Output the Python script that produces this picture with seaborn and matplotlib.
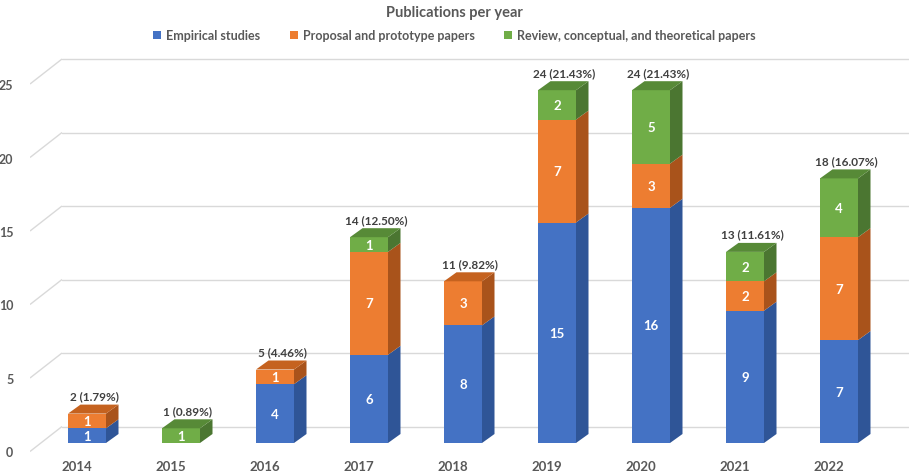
import matplotlib
matplotlib.use("Agg")
import matplotlib.pyplot as plt
import seaborn as sns
import pandas as pd
from matplotlib.patches import Polygon, Patch

years = ["2014", "2015", "2016", "2017", "2018", "2019", "2020", "2021", "2022"]
empirical = [1, 0, 4, 6, 8, 15, 16, 9, 7]
proposal = [1, 0, 1, 7, 3, 7, 3, 2, 7]
review = [0, 1, 0, 1, 0, 2, 5, 2, 4]
series_names = ["Empirical studies", "Proposal and prototype papers",
                "Review, conceptual, and theoretical papers"]
y_ticks = [0, 5, 10, 15, 20, 25]

front_colors = ["#4472C4", "#ED7D31", "#70AD47"]
side_colors = ["#2F5597", "#A9531B", "#4B7631"]
top_colors = ["#3A62AE", "#C5621F", "#578A37"]

TEXT = "#595959"
FONT = ["Lato", "DejaVu Sans"]

sns.set_theme(style="white")
plt.rcParams["font.family"] = FONT

W, H = 909, 477
fig = plt.figure(figsize=(W / 100, H / 100), dpi=100)
# axes spans pixel x 30..909 and pixel y 50..455 (from top)
ax = fig.add_axes([30 / W, (H - 455) / H, 879 / W, (455 - 50) / H])

df = pd.DataFrame({"year": years, "empirical": empirical,
                   "proposal": proposal, "review": review})
cols = ["empirical", "proposal", "review"]

bottoms = [0] * len(years)
segments = []  # (series index, patch, value)
for k, col in enumerate(cols):
    n0 = len(ax.patches)
    sns.barplot(data=df, x="year", y=col, order=years, bottom=bottoms,
                color=front_colors[k], saturation=1, width=38 / 94,
                errorbar=None, ax=ax, zorder=3, linewidth=0)
    new = ax.patches[n0:]
    for p, v in zip(new, df[col]):
        segments.append((k, p, v))
    bottoms = [b + v for b, v in zip(bottoms, df[col])]
totals = bottoms
grand = sum(totals)

# pixel mapping: category i centre at px 87 + 94 i, value v at px 444 - 14.7 v
x_lo = (30 - 87) / 94
x_hi = (909 - 87) / 94
y_lo = (444 - 455) / 14.7
y_hi = (444 - 50) / 14.7
ax.set_xlim(x_lo, x_hi)
ax.set_ylim(y_lo, y_hi)
for s in ax.spines.values():
    s.set_visible(False)
ax.set_xlabel("")
ax.set_ylabel("")

px_x = 94 / 1.0
px_y = 14.7
dx = 12.5 / px_x   # bar depth
dy = 9 / px_y
back_off = 16.5 / px_y    # back wall above bar front
floor_off = -8.5 / px_y   # front floor edge below bar front
wall_x = x_lo + 32 / px_x

# back wall and side wall grid
for v in y_ticks:
    ax.plot([x_lo, wall_x], [v + floor_off, v + back_off], color="#D9D9D9",
            lw=1, zorder=1, solid_capstyle="butt")
    ax.plot([wall_x, x_hi], [v + back_off, v + back_off], color="#D9D9D9",
            lw=1, zorder=1)

ax.set_yticks([v + floor_off for v in y_ticks])
ax.set_yticklabels([str(v) for v in y_ticks])
ax.set_xticks([i - 10 / px_x for i in range(len(years))])
ax.set_xticklabels(years)
ax.tick_params(axis="y", length=0, pad=12, labelsize=9, labelcolor=TEXT)
ax.tick_params(axis="x", length=0, pad=4, labelsize=9.5, labelcolor=TEXT)
for lab in ax.get_xticklabels() + ax.get_yticklabels():
    lab.set_fontweight("bold")
ax.grid(False)

# 3D side and top faces
for k, p, v in segments:
    if v <= 0:
        continue
    x0 = p.get_x()
    x1 = x0 + p.get_width()
    b = p.get_y()
    t = b + p.get_height()
    side = Polygon([(x1, b), (x1 + dx, b + dy), (x1 + dx, t + dy), (x1, t)],
                   closed=True, facecolor=side_colors[k], edgecolor="none",
                   zorder=3)
    ax.add_patch(side)
    ax.text((x0 + x1) / 2, (b + t) / 2, str(int(v)), ha="center",
            va="center", color="white", fontsize=9.5, fontweight="bold",
            zorder=5)

for i in range(len(years)):
    top_k, top_p = None, None
    for k, p, v in segments:
        if v > 0 and round(p.get_x() + p.get_width() / 2) == i:
            if top_p is None or p.get_y() + p.get_height() >= top_p.get_y() + top_p.get_height():
                top_k, top_p = k, p
    x0 = top_p.get_x()
    x1 = x0 + top_p.get_width()
    t = top_p.get_y() + top_p.get_height()
    top = Polygon([(x0, t), (x0 + dx, t + dy), (x1 + dx, t + dy), (x1, t)],
                  closed=True, facecolor=top_colors[top_k], edgecolor="none",
                  zorder=4)
    ax.add_patch(top)
    pct = totals[i] / grand * 100
    ax.text((x0 + x1) / 2 + 7 / px_x, t + 18 / px_y,
            f"{totals[i]} ({pct:.2f}%)", ha="center", va="center",
            color="#404040", fontsize=8.5, fontweight="bold", zorder=5)

fig.text(0.5, 1 - 13 / H, "Publications per year", ha="center", va="center",
         fontsize=10.5, fontweight="bold", color=TEXT)
handles = [Patch(facecolor=c, edgecolor="none") for c in front_colors]
leg = fig.legend(handles, series_names, loc="center",
                 bbox_to_anchor=(0.5, 1 - 36 / H), ncol=3, frameon=False,
                 fontsize=9, handlelength=0.6, handleheight=0.6,
                 handletextpad=0.4, columnspacing=2.4)
for t in leg.get_texts():
    t.set_color(TEXT)
    t.set_fontweight("bold")

fig.savefig("out.png", dpi=100)
